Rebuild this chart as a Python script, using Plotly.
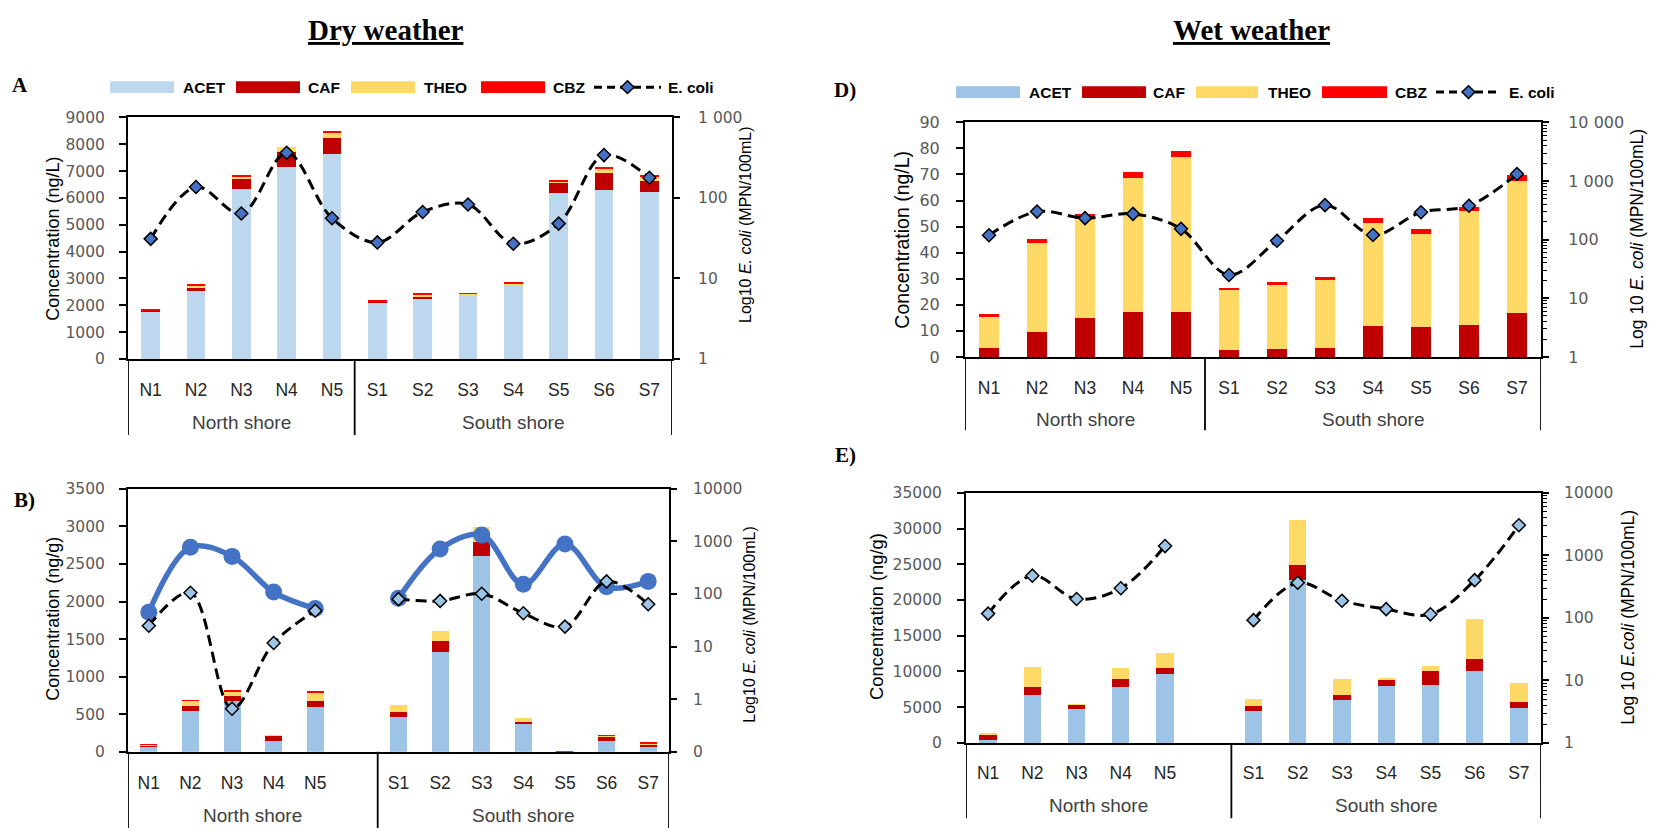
import plotly.graph_objects as go

W, H = 1658, 838

# ---------------- data ----------------
sites = ["N1", "N2", "N3", "N4", "N5", "S1", "S2", "S3", "S4", "S5", "S6", "S7"]
sites_gap = ["N1", "N2", "N3", "N4", "N5", " ", "S1", "S2", "S3", "S4", "S5", "S6", "S7"]

# A) dry weather, water (ng/L)
a_acet = [1740, 2540, 6320, 7160, 7650, 2080, 2250, 2330, 2760, 6170, 6290, 6230]
a_caf = [30, 100, 380, 564, 600, 30, 70, 30, 0, 390, 630, 390]
a_theo = [20, 95, 100, 182, 170, 25, 50, 60, 40, 40, 160, 160]
a_cbz = [35, 35, 25, 0, 60, 25, 35, 10, 30, 35, 25, 35]
a_ecoli = [31, 137, 64, 365, 56, 28, 67, 83, 27, 48, 341, 178]

# B) dry weather, sediment (ng/g)
b_acet = [75, 540, 680, 143, 592, None, 458, 1327, 2601, 363, 3, 143, 65]
b_caf = [8, 65, 57, 73, 78, None, 73, 151, 186, 34, 2, 56, 30]
b_theo = [12, 73, 73, 5, 125, None, 95, 129, 203, 48, 3, 17, 22]
b_cbz = [5, 5, 5, 0, 5, None, 0, 0, 0, 0, 4, 5, 5]
b_ecoli = [25, 106, 0.66, 11.7, 48, None, 80, 74, 101, 43, 24, 174, 64]
b_blue = [45, 774, 520, 109, 53, None, 83, 721, 1328, 153, 893, 137, 174]

# D) wet weather, water (ng/L)
d_acet = [0] * 12
d_caf = [3.5, 9.7, 14.9, 17.2, 17.2, 2.5, 3.0, 3.4, 11.8, 11.3, 12.1, 17.0]
d_theo = [11.8, 33.9, 38.0, 51.5, 59.5, 23.1, 24.6, 26.2, 39.6, 35.8, 43.7, 50.6]
d_cbz = [1.0, 1.8, 2.1, 2.4, 2.5, 0.8, 1.2, 0.9, 1.9, 1.9, 1.8, 2.1]
d_ecoli = [119, 301, 233, 275, 153, 25, 96, 388, 120, 293, 378, 1320]

# E) wet weather, sediment (ng/g)
e_acet = [455, 6680, 4770, 7860, 9590, None, 4410, 22770, 6050, 7950, 8050, 10000, 4920]
e_caf = [730, 1180, 590, 1050, 910, None, 730, 2140, 640, 950, 2000, 1730, 880]
e_theo = [130, 2820, 90, 1640, 2140, None, 1000, 6230, 2270, 230, 730, 5680, 2640]
e_cbz = [0, 0, 0, 0, 0, None, 0, 0, 0, 0, 0, 0, 0]
e_ecoli = [117, 473, 200, 297, 1406, None, 92, 364, 188, 138, 114, 401, 3020]

# ---------------- style ----------------
C_ACET_LIGHT = "#BDD7EE"
C_ACET = "#9DC3E6"
C_CAF = "#C00000"
C_THEO = "#FFD966"
C_CBZ = "#FF0000"
C_DARK_BLUE = "#4472C4"

TICK_FONT = dict(family="DejaVu Sans", size=15.5, color="#595959")
CAT_FONT = dict(family="Liberation Sans", size=17.5, color="#262626")
TITLE_FONT = "Liberation Sans"


def fx(x):
    return x / W


def fy(y):
    return 1 - y / H


fig = go.Figure()


def add_bars(x, series, xa, ya, width):
    for name, vals, color in series:
        fig.add_trace(go.Bar(
            x=x, y=vals, name=name, width=width,
            marker=dict(color=color, line=dict(width=0)),
            xaxis=xa, yaxis=ya, showlegend=False,
        ))


def add_ecoli(x, vals, xa, ya, fill):
    fig.add_trace(go.Scatter(
        x=x, y=vals, name="E. coli", mode="lines+markers", connectgaps=False,
        line=dict(color="black", width=3, dash="11px,6px", shape="spline", smoothing=1),
        marker=dict(symbol="diamond", size=10, color=fill, line=dict(color="black", width=1.5)),
        xaxis=xa, yaxis=ya, showlegend=False,
    ))


# Panel A
add_bars(sites, [("ACET", a_acet, C_ACET_LIGHT), ("CAF", a_caf, C_CAF),
                 ("THEO", a_theo, C_THEO), ("CBZ", a_cbz, C_CBZ)], "x", "y", 0.41)
add_ecoli(sites, a_ecoli, "x", "y2", C_DARK_BLUE)

# Panel B
add_bars(sites_gap, [("ACET", b_acet, C_ACET), ("CAF", b_caf, C_CAF),
                     ("THEO", b_theo, C_THEO), ("CBZ", b_cbz, C_CBZ)], "x2", "y3", 0.41)
fig.add_trace(go.Scatter(
    x=sites_gap, y=b_blue, mode="lines+markers", connectgaps=False,
    line=dict(color=C_DARK_BLUE, width=5.5, shape="spline", smoothing=1),
    marker=dict(symbol="circle", size=17, color=C_DARK_BLUE),
    xaxis="x2", yaxis="y4", showlegend=False,
))
add_ecoli(sites_gap, b_ecoli, "x2", "y4", C_ACET)

# Panel D
add_bars(sites, [("ACET", d_acet, C_ACET), ("CAF", d_caf, C_CAF),
                 ("THEO", d_theo, C_THEO), ("CBZ", d_cbz, C_CBZ)], "x3", "y5", 0.42)
add_ecoli(sites, d_ecoli, "x3", "y6", C_DARK_BLUE)

# Panel E
add_bars(sites_gap, [("ACET", e_acet, C_ACET), ("CAF", e_caf, C_CAF),
                     ("THEO", e_theo, C_THEO), ("CBZ", e_cbz, C_CBZ)], "x4", "y7", 0.39)
add_ecoli(sites_gap, e_ecoli, "x4", "y8", C_ACET)


def xaxis(left, right, cats, anchor, standoff):
    return dict(
        domain=[fx(left), fx(right)], anchor=anchor, type="category",
        categoryorder="array", categoryarray=cats, range=[-0.5, len(cats) - 0.5],
        showline=True, mirror=True, linecolor="black", linewidth=2,
        ticks="", showgrid=False, tickfont=CAT_FONT, ticklabelstandoff=standoff,
        fixedrange=True,
    )


def yleft(top, bottom, anchor, rng, dtick, standoff, font=TICK_FONT):
    return dict(
        domain=[fy(bottom), fy(top)], anchor=anchor, range=rng, dtick=dtick,
        tickformat="d",
        showline=True, linecolor="black", linewidth=2, ticks="outside", ticklen=7,
        tickwidth=1.5, tickcolor="black", showgrid=False, zeroline=False,
        tickfont=font, ticklabelstandoff=standoff, fixedrange=True,
    )


def yright(base, anchor, rng, vals, texts, standoff, minor=None, font=TICK_FONT):
    d = dict(
        overlaying=base, anchor=anchor, side="right", type="log", range=rng,
        tickmode="array", tickvals=vals, ticktext=texts,
        showline=True, linecolor="black", linewidth=2, ticks="outside", ticklen=6,
        tickwidth=1.5, tickcolor="black", showgrid=False, zeroline=False,
        tickfont=font, ticklabelstandoff=standoff, fixedrange=True,
    )
    if minor is not None:
        d["minor"] = dict(tickvals=minor, ticks="outside", ticklen=4, tickwidth=1,
                          tickcolor="black", showgrid=False)
    return d


minor_log = [k * 10 ** p for p in range(0, 4) for k in range(2, 10)]
FONT_D = dict(family="DejaVu Sans", size=16, color="#595959")

fig.update_layout(
    width=W, height=H, margin=dict(l=0, r=0, t=0, b=0), autosize=False,
    paper_bgcolor="white", plot_bgcolor="rgba(0,0,0,0)",
    barmode="stack", showlegend=False,
    xaxis=xaxis(128, 672, sites, "y", 14),
    yaxis=yleft(111, 358, "x", [0, 9000], 1000, 11),
    yaxis2=yright("y", "x", [0, 3], [1, 10, 100, 1000], ["1", "10", "100", "1 000"], 15),
    xaxis2=xaxis(128, 669, sites_gap, "y3", 14),
    yaxis3=yleft(491, 760, "x2", [0, 3500], 500, 11),
    yaxis4=yright("y3", "x2", [-1, 4], [0.1, 1, 10, 100, 1000, 10000],
                  ["0", "1", "10", "100", "1000", "10000"], 13),
    xaxis3=xaxis(965, 1541, sites, "y5", 14),
    yaxis5=yleft(116, 356, "x3", [0, 90], 10, 13, FONT_D),
    yaxis6=yright("y5", "x3", [0, 4], [1, 10, 100, 1000, 10000],
                  ["1", "10", "100", "1 000", "10 000"], 16, minor_log, FONT_D),
    xaxis4=xaxis(966, 1541, sites_gap, "y7", 13),
    yaxis7=yleft(495, 751, "x4", [0, 35000], 5000, 12),
    yaxis8=yright("y7", "x4", [0, 4], [1, 10, 100, 1000, 10000],
                  ["1", "10", "100", "1000", "10000"], 12, minor_log),
)

shapes = []
annotations = []


def text(x, y, s, size, family=TITLE_FONT, color="black", angle=0, anchor="center"):
    annotations.append(dict(
        text=s, x=fx(x), y=fy(y), xref="paper", yref="paper", showarrow=False,
        xanchor=anchor, yanchor="middle", textangle=angle,
        font=dict(family=family, size=size, color=color),
    ))


# group dividers under the category axis, in category units
def dividers(xref, positions, y_top, y_bottom):
    for p in positions:
        shapes.append(dict(type="line", xref=xref, yref="paper", x0=p, x1=p,
                           y0=fy(y_top), y1=fy(y_bottom),
                           line=dict(color="black", width=1.8)))


dividers("x", [-0.5, 4.5, 11.5], 358, 436)
dividers("x2", [-0.5, 5.5, 12.5], 760, 838)
dividers("x3", [-0.5, 4.5, 11.5], 356, 431)
dividers("x4", [-0.5, 5.5, 12.5], 751, 828)


def group_label(xref, xpos, y, s):
    annotations.append(dict(
        text=s, x=xpos, y=fy(y), xref=xref, yref="paper", showarrow=False,
        xanchor="center", yanchor="middle",
        font=dict(family="Liberation Sans", size=19, color="#404040"),
    ))


group_label("x", 2, 423, "North shore")
group_label("x", 8, 423, "South shore")
group_label("x2", 2.5, 825, "North shore")
group_label("x2", 9, 825, "South shore")
group_label("x3", 2, 420, "North shore")
group_label("x3", 8, 420, "South shore")
group_label("x4", 2.5, 815, "North shore")
group_label("x4", 9, 815, "South shore")

# headings and panel letters
text(386, 21, "<b><u>Dry weather</u></b>", 29, "Liberation Serif")
text(1251, 21, "<b><u>Wet weather</u></b>", 29, "Liberation Serif")
text(20, 78, "<b>A</b>", 21, "Liberation Serif")
text(24, 502, "<b>B)</b>", 21, "Liberation Serif")
text(845, 83, "<b>D)</b>", 21, "Liberation Serif")
text(845, 456, "<b>E)</b>", 21, "Liberation Serif")

# axis titles
text(53, 235, "Concentration (ng/L)", 18, color="black", angle=-90)
text(53, 624, "Concentration (ng/g)", 18, color="black", angle=-90)
text(902, 236, "Concentration (ng/L)", 19.5, color="black", angle=-90)
text(877, 622, "Concentration (ng/g)", 18.3, color="black", angle=-90)
text(746, 221, "Log10 <i>E. coli</i> (MPN/100mL)", 16, color="black", angle=-90)
text(750, 630, "Log10 <i>E. coli</i> (MPN/100mL)", 16, color="black", angle=-90)
text(1637, 235, "Log 10 <i>E. coli</i> (MPN/100mL)", 17.5, color="black", angle=-90)
text(1628, 623, "Log 10 <i>E.coli</i> (MPN/100mL)", 17.5, color="black", angle=-90)


# legends (swatches + labels)
def legend(y, entries, line_x, line_tx, diamond_fill):
    for (x0, x1, tx, label, color) in entries:
        shapes.append(dict(type="rect", xref="paper", yref="paper",
                           x0=fx(x0), x1=fx(x1), y0=fy(y + 6), y1=fy(y - 6),
                           fillcolor=color, line=dict(width=0)))
        text(tx, y, f"<b>{label}</b>", 15.5, anchor="left")
    lx0, lx1 = line_x
    shapes.append(dict(type="line", xref="paper", yref="paper",
                       x0=fx(lx0), x1=fx(lx1), y0=fy(y), y1=fy(y),
                       line=dict(color="black", width=3, dash="8px,5px")))
    cx = (lx0 + lx1) / 2
    r = 6.5
    path = (f"M {fx(cx)},{fy(y - r)} L {fx(cx + r)},{fy(y)} "
            f"L {fx(cx)},{fy(y + r)} L {fx(cx - r)},{fy(y)} Z")
    shapes.append(dict(type="path", xref="paper", yref="paper", path=path,
                       fillcolor=diamond_fill, line=dict(color="black", width=1.5)))
    text(line_tx, y, "<b>E. coli</b>", 15.5, anchor="left")


legend(80, [(110, 174, 181, "ACET", C_ACET_LIGHT), (236, 300, 306, "CAF", C_CAF),
            (351, 415, 422, "THEO", C_THEO), (481, 545, 551, "CBZ", C_CBZ)],
       (594, 661), 666, C_DARK_BLUE)
legend(85, [(956, 1020, 1027, "ACET", C_ACET), (1082, 1146, 1151, "CAF", C_CAF),
            (1196, 1258, 1266, "THEO", C_THEO), (1322, 1387, 1393, "CBZ", C_CBZ)],
       (1436, 1501), 1507, C_DARK_BLUE)

fig.update_layout(shapes=shapes, annotations=annotations)
fig.write_html("out.html")
